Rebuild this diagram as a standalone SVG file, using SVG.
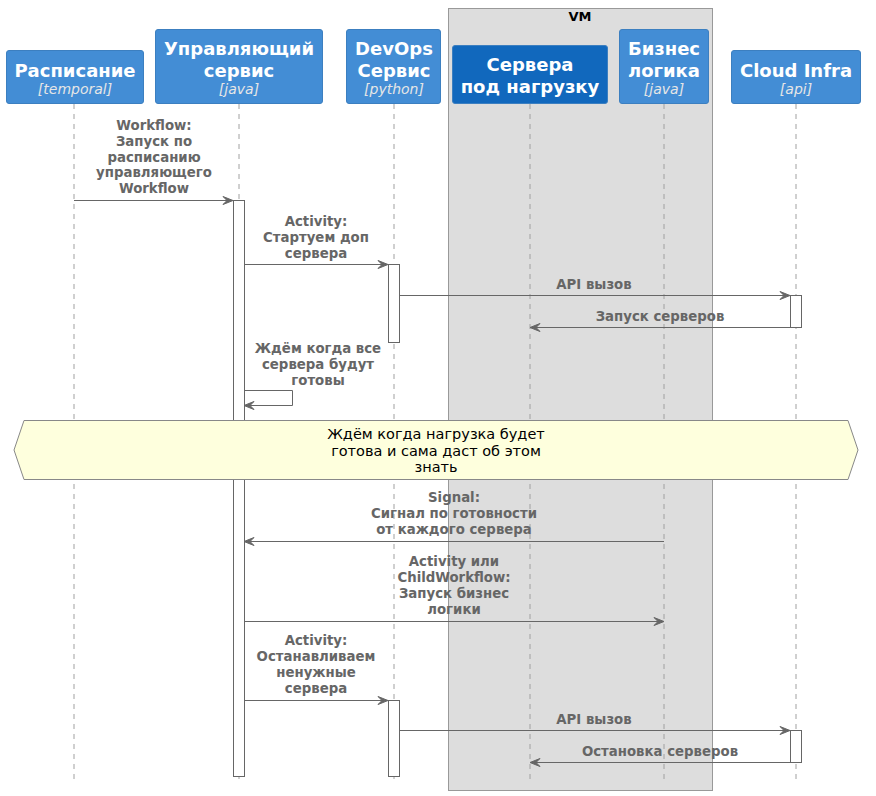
<svg xmlns="http://www.w3.org/2000/svg" width="876" height="796" viewBox="0 0 876 796">
<style>
.box{fill:#438DD5;stroke:#3C7FC0;stroke-width:1}
.dark{fill:#1168BD;stroke:#3C7FC0;stroke-width:1}
.t{font-family:"DejaVu Sans",sans-serif;font-weight:bold;font-size:18px;fill:#FFFFFF;text-anchor:middle}
.st{font-family:"DejaVu Sans",sans-serif;font-style:italic;font-size:14px;fill:#E6E6E6;text-anchor:middle}
.life{stroke:#A0A0A0;stroke-width:1;stroke-dasharray:5,5;fill:none}
.act{fill:#FFFFFF;stroke:#666666;stroke-width:1}
.msg{stroke:#666666;stroke-width:1;fill:none}
.ah{fill:#666666;stroke:#666666;stroke-width:1}
.lbl{font-family:"DejaVu Sans",sans-serif;font-weight:bold;font-size:13.3px;fill:#666666;text-anchor:middle}
.note{font-family:"DejaVu Sans",sans-serif;font-size:14.5px;fill:#000000;text-anchor:middle}
</style>
<rect width="876" height="796" fill="#FFFFFF"/>
<g id="vm">
<rect x="448.5" y="8.5" width="264" height="782" fill="#DDDDDD" stroke="#999999" stroke-width="1"/>
<text x="580" y="21" font-family="DejaVu Sans, sans-serif" font-weight="bold" font-size="13" fill="#000000" text-anchor="middle">VM</text>
</g>
<g id="lifelines">
<line class="life" x1="74" y1="104" x2="74" y2="784"/>
<line class="life" x1="239" y1="104" x2="239" y2="784"/>
<line class="life" x1="394" y1="104" x2="394" y2="784"/>
<line class="life" x1="530" y1="104" x2="530" y2="784"/>
<line class="life" x1="664" y1="104" x2="664" y2="784"/>
<line class="life" x1="796" y1="104" x2="796" y2="784"/>
</g>
<g id="p_schedule">
<rect class="box" x="6.5" y="50.5" width="137" height="53" rx="2.5"/>
<text class="t" x="75" y="76.5">Расписание</text>
<text class="st" x="75" y="94">[temporal]</text>
</g>
<g id="p_control">
<rect class="box" x="155.5" y="29.5" width="167" height="74" rx="2.5"/>
<text class="t" x="239" y="54.5">Управляющий</text>
<text class="t" x="239" y="76.5">сервис</text>
<text class="st" x="239" y="94">[java]</text>
</g>
<g id="p_devops">
<rect class="box" x="346.5" y="29.5" width="94" height="74" rx="2.5"/>
<text class="t" x="394" y="54.5">DevOps</text>
<text class="t" x="394" y="76.5">Сервис</text>
<text class="st" x="394" y="94">[python]</text>
</g>
<g id="p_servers">
<rect class="dark" x="452.5" y="45.5" width="155" height="58" rx="2.5"/>
<text class="t" x="530" y="70.5">Сервера</text>
<text class="t" x="530" y="92.5">под нагрузку</text>
</g>
<g id="p_business">
<rect class="box" x="619.5" y="29.5" width="89" height="74" rx="2.5"/>
<text class="t" x="664" y="54.5">Бизнес</text>
<text class="t" x="664" y="76.5">логика</text>
<text class="st" x="664" y="94">[java]</text>
</g>
<g id="p_cloud">
<rect class="box" x="731.5" y="50.5" width="129" height="53" rx="2.5"/>
<text class="t" x="796" y="76.5">Cloud Infra</text>
<text class="st" x="796" y="94">[api]</text>
</g>
<g id="activations">
<rect class="act" x="233.5" y="200.5" width="11" height="576"/>
<rect class="act" x="388.5" y="264.5" width="11" height="78"/>
<rect class="act" x="388.5" y="700.5" width="11" height="76"/>
<rect class="act" x="790.5" y="295.5" width="11" height="32"/>
<rect class="act" x="790.5" y="730.5" width="11" height="32"/>
</g>
<g id="connectors">
<line class="msg" x1="74" y1="200.5" x2="231" y2="200.5"/>
<polygon class="ah" points="223,196.5 233,200.5 223,204.5 227,200.5"/>
<line class="msg" x1="244" y1="264.5" x2="386" y2="264.5"/>
<polygon class="ah" points="378,260.5 388,264.5 378,268.5 382,264.5"/>
<line class="msg" x1="399" y1="295.5" x2="788" y2="295.5"/>
<polygon class="ah" points="780,291.5 790,295.5 780,299.5 784,295.5"/>
<line class="msg" x1="790" y1="327.5" x2="532" y2="327.5"/>
<polygon class="ah" points="540,323.5 530,327.5 540,331.5 536,327.5"/>
<polyline class="msg" points="244,390.5 292.5,390.5 292.5,405.5 246,405.5"/>
<polygon class="ah" points="254,401.5 244,405.5 254,409.5 250,405.5"/>
<line class="msg" x1="664" y1="541.5" x2="246" y2="541.5"/>
<polygon class="ah" points="254,537.5 244,541.5 254,545.5 250,541.5"/>
<line class="msg" x1="244" y1="621.5" x2="662" y2="621.5"/>
<polygon class="ah" points="654,617.5 664,621.5 654,625.5 658,621.5"/>
<line class="msg" x1="244" y1="700.5" x2="386" y2="700.5"/>
<polygon class="ah" points="378,696.5 388,700.5 378,704.5 382,700.5"/>
<line class="msg" x1="399" y1="730.5" x2="788" y2="730.5"/>
<polygon class="ah" points="780,726.5 790,730.5 780,734.5 784,730.5"/>
<line class="msg" x1="790" y1="762.5" x2="532" y2="762.5"/>
<polygon class="ah" points="540,758.5 530,762.5 540,766.5 536,762.5"/>
</g>
<g id="labels">
<text class="lbl" x="154" y="130">Workflow:</text>
<text class="lbl" x="154" y="146">Запуск по</text>
<text class="lbl" x="154" y="162">расписанию</text>
<text class="lbl" x="154" y="177">управляющего</text>
<text class="lbl" x="154" y="193">Workflow</text>
<text class="lbl" x="316" y="226">Activity:</text>
<text class="lbl" x="316" y="242">Стартуем доп</text>
<text class="lbl" x="316" y="258">сервера</text>
<text class="lbl" x="594" y="289">API вызов</text>
<text class="lbl" x="660" y="321">Запуск серверов</text>
<text class="lbl" x="318" y="353">Ждём когда все</text>
<text class="lbl" x="318" y="369">сервера будут</text>
<text class="lbl" x="318" y="385">готовы</text>
<text class="lbl" x="454" y="502">Signal:</text>
<text class="lbl" x="454" y="518">Сигнал по готовности</text>
<text class="lbl" x="454" y="534">от каждого сервера</text>
<text class="lbl" x="454" y="566">Activity или</text>
<text class="lbl" x="454" y="582">ChildWorkflow:</text>
<text class="lbl" x="454" y="598">Запуск бизнес</text>
<text class="lbl" x="454" y="614">логики</text>
<text class="lbl" x="316" y="645">Activity:</text>
<text class="lbl" x="316" y="661">Останавливаем</text>
<text class="lbl" x="316" y="677">ненужные</text>
<text class="lbl" x="316" y="693">сервера</text>
<text class="lbl" x="594" y="724">API вызов</text>
<text class="lbl" x="660" y="756">Остановка серверов</text>
</g>
<g id="note">
<polygon points="14,450 24,420.5 848,420.5 858,450 848,479.5 24,479.5" fill="#FEFFDD" stroke="#888888" stroke-width="1"/>
<text class="note" x="436" y="439">Ждём когда нагрузка будет</text>
<text class="note" x="436" y="456">готова и сама даст об этом</text>
<text class="note" x="436" y="472">знать</text>
</g>
</svg>
